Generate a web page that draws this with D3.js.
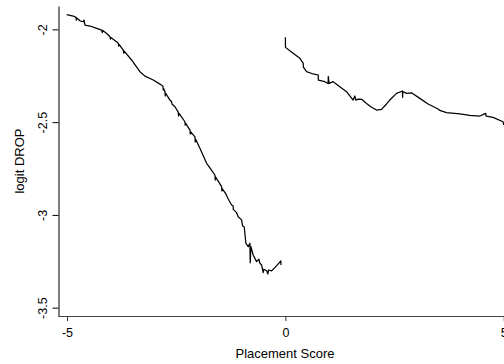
<!DOCTYPE html>
<html>
<head>
<meta charset="utf-8">
<script src="https://cdn.jsdelivr.net/npm/d3@7"></script>
<style>
  html, body { margin: 0; padding: 0; background: #fff; }
  svg { display: block; font-family: "Liberation Sans", Arial, sans-serif; }
</style>
</head>
<body>
<svg id="chart" width="504" height="364"></svg>
<script>
// Smoothed logit of DROP against the placement score, fitted separately on each side of the cutoff.
const leftScore = [-5.007, -4.856, -4.794, -4.787, -4.780, -4.703, -4.627, -4.611, -4.588, -4.474,
  -4.320, -4.206, -4.192, -4.181, -4.092, -4.016, -4.005, -3.993, -3.826, -3.815,
  -3.803, -3.712, -3.700, -3.689, -3.522, -3.330, -3.215, -3.025, -2.872, -2.803,
  -2.796, -2.789, -2.757, -2.750, -2.744, -2.643, -2.604, -2.597, -2.529, -2.453,
  -2.446, -2.437, -2.414, -2.300, -2.293, -2.286, -2.185, -2.178, -2.172, -2.071,
  -2.064, -2.057, -1.957, -1.803, -1.728, -1.613, -1.606, -1.600, -1.460, -1.453,
  -1.446, -1.362, -1.309, -1.231, -1.195, -1.194, -1.117, -1.080, -1.002, -0.979,
  -0.943, -0.904, -0.851, -0.812, -0.805, -0.789, -0.737, -0.659, -0.606, -0.584,
  -0.545, -0.508, -0.492, -0.430, -0.400, -0.384, -0.316, -0.204, -0.103, -0.101];
const leftLogit = [-1.921, -1.928, -1.935, -1.950, -1.938, -1.954, -1.959, -1.950, -1.977, -1.982,
  -1.995, -2.004, -2.018, -2.006, -2.022, -2.040, -2.052, -2.044, -2.075, -2.090,
  -2.082, -2.112, -2.128, -2.117, -2.165, -2.228, -2.252, -2.273, -2.295, -2.306,
  -2.327, -2.318, -2.336, -2.359, -2.343, -2.381, -2.390, -2.402, -2.417, -2.446,
  -2.467, -2.453, -2.459, -2.498, -2.516, -2.505, -2.543, -2.564, -2.551, -2.579,
  -2.607, -2.591, -2.641, -2.722, -2.747, -2.785, -2.812, -2.795, -2.848, -2.871,
  -2.858, -2.887, -2.914, -2.947, -2.952, -2.970, -2.988, -3.010, -3.027, -3.060,
  -3.064, -3.153, -3.171, -3.153, -3.258, -3.171, -3.216, -3.252, -3.239, -3.261,
  -3.270, -3.311, -3.293, -3.301, -3.318, -3.297, -3.302, -3.275, -3.248, -3.270];

const rightScore = [0.000, 0.002, 0.178, 0.332, 0.407, 0.412, 0.485, 0.606, 0.751, 0.755,
  0.904, 0.979, 0.982, 1.002, 1.094, 1.247, 1.400, 1.551, 1.590, 1.613,
  1.666, 1.744, 1.858, 1.973, 2.087, 2.201, 2.316, 2.391, 2.545, 2.682,
  2.684, 2.689, 2.773, 2.888, 3.078, 3.268, 3.497, 3.535, 3.689, 3.993,
  4.222, 4.451, 4.588, 4.595, 4.755, 4.984, 5.000];
const rightLogit = [-2.043, -2.097, -2.129, -2.156, -2.182, -2.203, -2.228, -2.238, -2.246, -2.273,
  -2.282, -2.292, -2.254, -2.291, -2.282, -2.309, -2.336, -2.381, -2.359, -2.381,
  -2.376, -2.377, -2.399, -2.420, -2.435, -2.431, -2.402, -2.381, -2.345, -2.332,
  -2.366, -2.335, -2.345, -2.342, -2.372, -2.402, -2.429, -2.437, -2.449, -2.456,
  -2.463, -2.467, -2.453, -2.467, -2.474, -2.498, -2.516];

const xTicks = [-5, 0, 5];
const yTicks = [-3.5, -3, -2.5, -2];
const xTitle = "Placement Score";
const yTitle = "logit DROP";

const svg = d3.select("#chart");

const x = d3.scaleLinear().domain([-5.206, 5.2]).range([58, 512.5]);
const y = d3.scaleLinear().domain([-3.545, -1.874]).range([316, 6]);

const fmt = d => String(d);

// bottom axis
const gx = svg.append("g")
  .attr("transform", "translate(0,316)")
  .call(d3.axisBottom(x).tickValues(xTicks).tickSize(5).tickSizeOuter(0).tickFormat(fmt));
gx.select(".domain").attr("stroke", "#444").attr("stroke-width", 1.1);
gx.selectAll(".tick line").attr("stroke", "#333");
gx.selectAll(".tick text")
  .attr("y", 21).attr("dy", 0)
  .attr("font-size", 12.5).attr("fill", "#000")
  .attr("font-family", "Liberation Sans, Arial, sans-serif");

// left axis
const gy = svg.append("g")
  .attr("transform", "translate(58.5,0)")
  .call(d3.axisLeft(y).tickValues(yTicks).tickSize(6).tickSizeOuter(0).tickFormat(fmt));
gy.select(".domain").attr("stroke", "#000");
gy.selectAll(".tick line").attr("stroke", "#000");
gy.selectAll(".tick text")
  .attr("x", 0).attr("dy", 0)
  .attr("transform", "translate(-16,0) rotate(-90)")
  .attr("text-anchor", "middle")
  .attr("dy", "0.35em")
  .attr("font-size", 12.5).attr("fill", "#000")
  .attr("font-family", "Liberation Sans, Arial, sans-serif");

// axis titles
svg.append("text")
  .attr("x", 285).attr("y", 357.5)
  .attr("text-anchor", "middle")
  .attr("font-size", 13)
  .text(xTitle);

svg.append("text")
  .attr("transform", "translate(19,161) rotate(-90)")
  .attr("text-anchor", "middle")
  .attr("dy", "0.35em")
  .attr("font-size", 13)
  .text(yTitle);

// fitted curves
const line = d3.line().x(d => x(d[0])).y(d => y(d[1]));
const leftPts = leftScore.map((s, i) => [s, leftLogit[i]]);
const rightPts = rightScore.map((s, i) => [s, rightLogit[i]]);

[leftPts, rightPts].forEach(pts => {
  svg.append("path")
    .datum(pts)
    .attr("d", line)
    .attr("fill", "none")
    .attr("stroke", "#000")
    .attr("stroke-width", 1.25)
    .attr("stroke-linejoin", "round");
});
</script>
</body>
</html>
